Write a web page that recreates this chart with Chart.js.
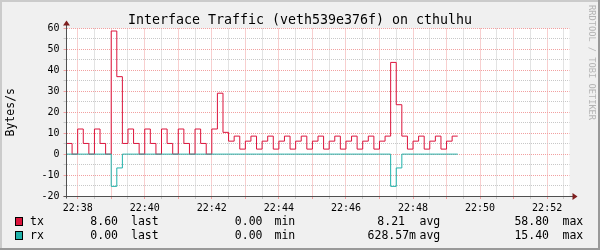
<!DOCTYPE html>
<html><head><meta charset="utf-8">
<script src="https://cdn.jsdelivr.net/npm/chart.js@4/dist/chart.umd.min.js"></script>
<style>
html,body{margin:0;padding:0;background:#F0F0F0;}
#wrap{width:600px;height:250px;position:relative;}
canvas{display:block;}
</style>
</head><body>
<div id="wrap"><canvas id="c" width="600" height="250"></canvas></div>
<script>
// ---------- data ----------
const chartTitle = 'Interface Traffic (veth539e376f) on cthulhu';
const yAxisLabel = 'Bytes/s';
const watermark = 'RRDTOOL / TOBI OETIKER';
const startTime = '22:37:40';
const endTime = '22:52:40';
const stepSeconds = 10;
const xTickLabels = ['22:38','22:40','22:42','22:44','22:46','22:48','22:50','22:52'];
const seriesNames = ['tx','rx'];
const txValues = [5.1,0,12,5.1,0,12,5.1,0,58.8,37,
  5.1,12,5.1,0,12,5.1,0,12,5.1,0,
  12,5.1,0,12,5.1,0,12,29.1,10.4,6.2,
  8.6,2.4,6.2,8.6,2.4,6.2,8.6,2.4,6.2,8.6,
  2.4,6.2,8.6,2.4,6.2,8.6,2.4,6.2,8.6,2.4,
  6.2,8.6,2.4,6.2,8.6,2.4,6.2,8.6,43.8,23.6,
  8.6,2.4,6.2,8.6,2.4,6.2,8.6,2.4,6.2,8.6];
const rxValues = [0,0,0,0,0,0,0,0,15.4,6.6,
  0,0,0,0,0,0,0,0,0,0,
  0,0,0,0,0,0,0,0,0,0,
  0,0,0,0,0,0,0,0,0,0,
  0,0,0,0,0,0,0,0,0,0,
  0,0,0,0,0,0,0,0,15.4,6.6,
  0,0,0,0,0,0,0,0,0,0];
const lastValues = ['8.60','0.00'];
const minValues = ['0.00','0.00'];
const avgValues = ['8.21','628.57m'];
const maxValues = ['58.80','15.40'];
const yMin = -20, yMax = 60, yStep = 5, yLabelStep = 10;

// ---------- helpers ----------
function toSec(s){const p=s.split(':').map(Number);return p[0]*3600+p[1]*60+(p[2]||0);}
const T0 = toSec(startTime), T1 = toSec(endTime);
function series(vals, sign){
  const pts = vals.map((v,i)=>({x:T0+i*stepSeconds, y:sign*v}));
  pts.push({x:T0+vals.length*stepSeconds, y:sign*vals[vals.length-1]});
  return pts;
}
const labelSecs = xTickLabels.map(toSec);
const MONO = "'DejaVu Sans Mono', monospace";
const colors = ['#DC143C','#20B2AA'];
const GRID = '#C8C8C8', MGRID = '#F2A0A0';

const rrdPlugin = {
  id:'rrd',
  beforeDraw(chart){
    const {ctx, chartArea:a} = chart;
    ctx.save();
    ctx.fillStyle='#F0F0F0'; ctx.fillRect(0,0,600,250);
    ctx.fillStyle='#CBCBCB'; ctx.fillRect(0,0,600,2); ctx.fillRect(0,0,2,250);
    ctx.fillStyle='#999999'; ctx.fillRect(0,248,600,2); ctx.fillRect(598,0,2,250);
    ctx.fillStyle='#FFFFFF'; ctx.fillRect(a.left,a.top,a.right-a.left,a.bottom-a.top);
    ctx.restore();
  },
  afterDraw(chart){
    const {ctx, chartArea:a} = chart;
    ctx.save();
    // axes
    const ax = Math.floor(a.left)+0.5, ay = Math.floor(a.bottom)+0.5;
    ctx.strokeStyle='#505050'; ctx.lineWidth=1;
    ctx.beginPath();
    ctx.moveTo(ax, ay+2); ctx.lineTo(ax, a.top-6);
    ctx.moveTo(ax-3, ay); ctx.lineTo(a.right+4, ay);
    ctx.stroke();
    ctx.fillStyle='#7F1F1F';
    ctx.beginPath(); ctx.moveTo(ax, a.top-8); ctx.lineTo(ax-3.5, a.top-3); ctx.lineTo(ax+3.5, a.top-3); ctx.closePath(); ctx.fill();
    ctx.beginPath(); ctx.moveTo(a.right+8, ay); ctx.lineTo(a.right+3, ay-3.5); ctx.lineTo(a.right+3, ay+3.5); ctx.closePath(); ctx.fill();
    // title
    ctx.fillStyle='#000'; ctx.font='13.3px '+MONO; ctx.textAlign='center'; ctx.textBaseline='alphabetic';
    ctx.fillText(chartTitle, 300, 24);
    // watermark
    ctx.save();
    ctx.translate(591.5, 5); ctx.rotate(Math.PI/2);
    ctx.fillStyle='#B4B4B4'; ctx.font='8.7px '+MONO; ctx.textAlign='left'; ctx.textBaseline='middle';
    ctx.fillText(watermark, 0, 0);
    ctx.restore();
    // legend
    ctx.font='11.5px '+MONO; ctx.textBaseline='middle';
    const rows=[222.3,235.7];
    seriesNames.forEach((name,i)=>{
      const y=rows[i];
      ctx.fillStyle='#000'; ctx.fillRect(15,Math.round(y)-5,8,9);
      ctx.fillStyle=colors[i]; ctx.fillRect(16,Math.round(y)-4,6,7);
      ctx.fillStyle='#000';
      ctx.textAlign='left'; ctx.fillText(name,30,y);
      ctx.textAlign='right'; ctx.fillText(lastValues[i],118,y);
      ctx.textAlign='left'; ctx.fillText('last',131,y);
      ctx.textAlign='right'; ctx.fillText(minValues[i],262.5,y);
      ctx.textAlign='left'; ctx.fillText('min',274.5,y);
      ctx.textAlign='right'; ctx.fillText(avgValues[i], avgValues[i].endsWith('m')?416:405, y);
      ctx.textAlign='left'; ctx.fillText('avg',419.5,y);
      ctx.textAlign='right'; ctx.fillText(maxValues[i],549,y);
      ctx.textAlign='left'; ctx.fillText('max',562.5,y);
    });
    ctx.restore();
  }
};

new Chart(document.getElementById('c'), {
  type:'line',
  data:{datasets:[
    {label:seriesNames[0], data:series(txValues,1), borderColor:colors[0], borderWidth:1, stepped:true, pointRadius:0, fill:false, order:2},
    {label:seriesNames[1], data:series(rxValues,-1), borderColor:colors[1], borderWidth:1, stepped:true, pointRadius:0, fill:false, order:1}
  ]},
  options:{
    responsive:false, animation:false, devicePixelRatio:1,
    layout:{padding:{left:0,right:30.5,top:28.5,bottom:0}},
    plugins:{legend:{display:false}, tooltip:{enabled:false}, title:{display:false}},
    scales:{
      x:{type:'linear', min:T0, max:T1, offset:false,
        afterFit(s){s.height=54;},
        afterBuildTicks(s){const t=[];for(let v=labelSecs[0];v<=T1;v+=30)t.push({value:v});s.ticks=t;},
        ticks:{autoSkip:false, maxRotation:0, padding:3, color:'#000', font:{family:MONO,size:10},
          callback(v){const k=labelSecs.indexOf(v);return k>=0?xTickLabels[k]:'';}},
        grid:{color:(c)=>c.tick&&c.tick.value%60===0?MGRID:GRID, lineWidth:1, drawTicks:true, tickLength:3},
        border:{display:false, dash:[1,1]}
      },
      y:{type:'linear', min:yMin, max:yMax,
        afterFit(s){s.width=66.5;},
        ticks:{stepSize:yStep, autoSkip:false, padding:4, color:'#000', font:{family:MONO,size:10},
          callback(v){return v%yLabelStep===0?String(v):'';}},
        grid:{color:(c)=>c.tick&&c.tick.value%yLabelStep===0?MGRID:GRID, lineWidth:1, drawTicks:true, tickLength:3},
        border:{display:false, dash:[1,1]},
        title:{display:true, text:yAxisLabel, color:'#000', font:{family:MONO,size:11.5,lineHeight:1.2}, padding:{top:4.5,bottom:0}}
      }
    }
  },
  plugins:[rrdPlugin]
});
</script>
</body></html>
